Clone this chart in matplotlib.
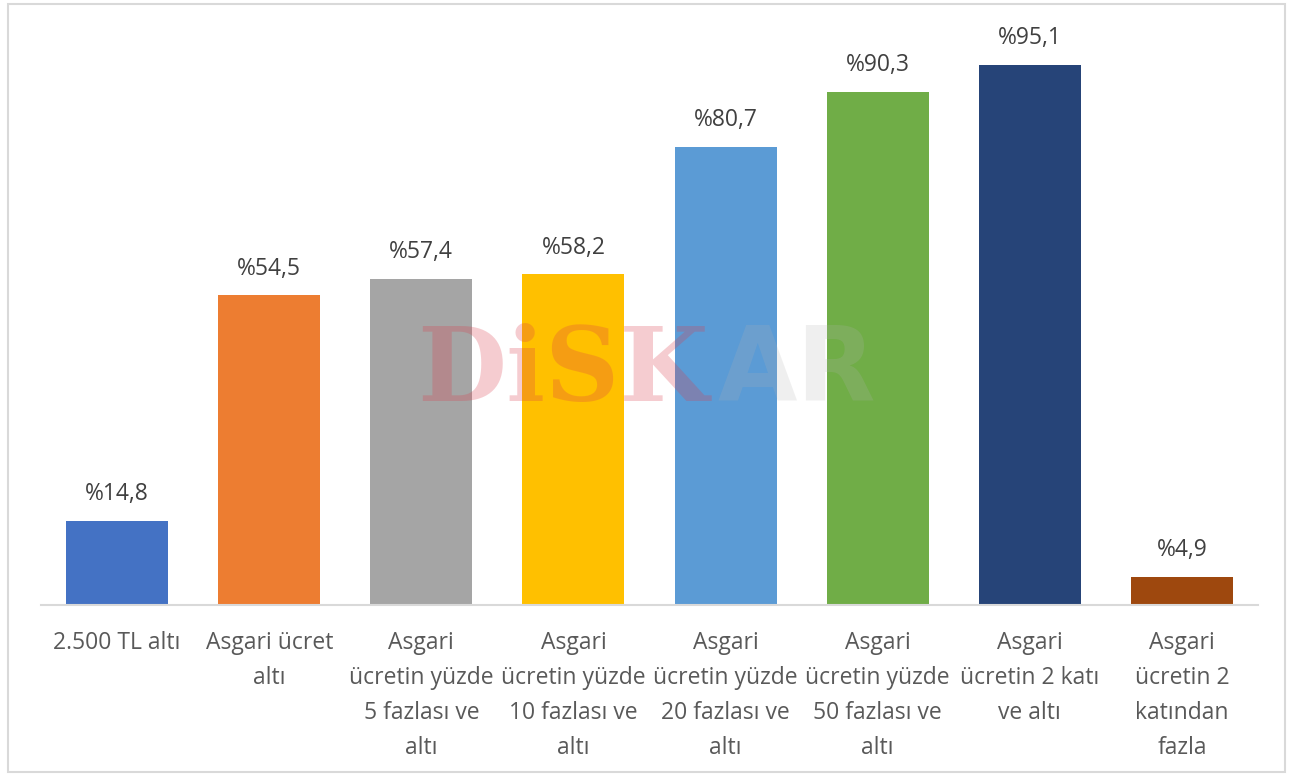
import matplotlib
matplotlib.use("Agg")
import matplotlib.pyplot as plt
from matplotlib.patches import Rectangle

categories = ["2.500 TL altı", "Asgari ücret\naltı", "Asgari\nücretin yüzde\n5 fazlası ve\naltı",
              "Asgari\nücretin yüzde\n10 fazlası ve\naltı", "Asgari\nücretin yüzde\n20 fazlası ve\naltı",
              "Asgari\nücretin yüzde\n50 fazlası ve\naltı", "Asgari\nücretin 2 katı\nve altı",
              "Asgari\nücretin 2\nkatından\nfazla"]
values = [14.8, 54.5, 57.4, 58.2, 80.7, 90.3, 95.1, 4.9]
colors = ["#4472C4", "#ED7D31", "#A5A5A5", "#FFC000", "#5B9BD5", "#70AD47", "#264478", "#9E480E"]

plt.rcParams["font.family"] = ["Open Sans", "DejaVu Sans"]

fig = plt.figure(figsize=(12.92, 7.76), dpi=100)
ax = fig.add_axes([41/1292, 171/776, 1217/1292, 568/776])
x = range(len(values))
bars = ax.bar(x, values, color=colors, width=0.67, zorder=2)
ax.set_xlim(-0.5, len(values) - 0.5)
ax.set_ylim(0, 100)
for b, v in zip(bars, values):
    ax.text(b.get_x() + b.get_width()/2, v + 2.6, "%" + f"{v:.1f}".replace(".", ","),
            ha="center", va="bottom", fontsize=16.5, color="#404040")
ax.set_xticks(list(x))
ax.set_xticklabels(categories, fontsize=16.5, color="#595959", linespacing=1.6)
ax.tick_params(axis="x", length=0, pad=19)
ax.set_yticks([])
for s in ["top", "right", "left"]:
    ax.spines[s].set_visible(False)
ax.spines["bottom"].set_color("#d9d9d9")
ax.spines["bottom"].set_linewidth(1.5)

# watermark
fig.text(417/1292, 1 - 372/776, "DiSK", fontsize=74, fontweight="bold", family="DejaVu Serif",
         color=(220/255, 60/255, 75/255), alpha=0.26, va="center", ha="left", zorder=5)
fig.text(718/1292, 1 - 372/776, "AR", fontsize=74, fontweight="bold", family="DejaVu Sans",
         color=(0.7, 0.7, 0.7), alpha=0.2, va="center", ha="left", zorder=5)

# outer frame
fig.patches.append(Rectangle((8/1292, 4/776), 1277/1292, 768/776, transform=fig.transFigure,
                             fill=False, edgecolor="#d9d9d9", linewidth=1.5))
fig.savefig("out.png", dpi=100)
